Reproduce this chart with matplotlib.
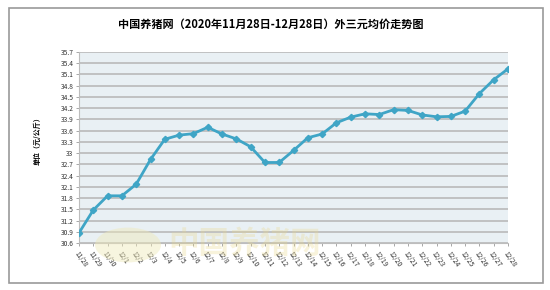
import matplotlib
matplotlib.use("Agg")
import matplotlib.pyplot as plt
from matplotlib.patches import Rectangle, Circle
import numpy as np

plt.rcParams['font.family'] = ['Noto Sans CJK SC', 'DejaVu Sans']

dates = ["11/28", "11/29", "11/30"] + [f"12/{d}" for d in range(1, 29)]
prices = [30.87, 31.48, 31.86, 31.86, 32.17, 32.83, 33.37, 33.48, 33.52, 33.69,
          33.51, 33.38, 33.17, 32.75, 32.75, 33.07, 33.41, 33.51, 33.81, 33.96,
          34.05, 34.03, 34.16, 34.14, 34.02, 33.97, 33.98, 34.12, 34.59, 34.96, 35.25]
yticks = [round(30.6 + 0.3 * i, 1) for i in range(18)]

title = "中国养猪网（2020年11月28日-12月28日）外三元均价走势图"
ylabel = "单位（元/公斤）"

fig = plt.figure(figsize=(5.5, 2.9), dpi=100)
fig.patch.set_facecolor("white")
# outer frame
fig.add_artist(Rectangle((9/550, 1-283/290), 534/550, 275/290, transform=fig.transFigure,
                         fill=False, edgecolor="#9a9a9a", linewidth=1.2))

ax = fig.add_axes([79/550, 1-243/290, 429/550, 191/290])
ax.set_facecolor("#E9F0F4")
x = np.arange(len(dates))
ax.plot(x, prices, color="#3FA5C6", linewidth=2.0, marker="D", markersize=3.2,
        markerfacecolor="#3FA5C6", markeredgecolor="#3FA5C6", zorder=3)
ax.set_xlim(0, len(dates) - 1)
ax.set_ylim(30.6, 35.7)
ax.set_yticks(yticks)
ax.set_yticklabels([f"{v:g}" for v in yticks], fontsize=4.8, color="#333333")
ax.set_xticks(x)
ax.set_xticklabels(dates, fontsize=4.8, rotation=-55, ha="left", va="top",
                   rotation_mode="anchor", color="#333333")
ax.yaxis.grid(True, color="#B5B5B5", linewidth=1.1)
ax.set_axisbelow(True)
for s in ["top", "right"]:
    ax.spines[s].set_visible(False)
ax.spines["left"].set_color("#BDBDBD")
ax.spines["bottom"].set_color("#BDBDBD")
ax.tick_params(axis="y", length=2, width=0.6, color="#999999", pad=2)
ax.tick_params(axis="x", length=2, width=0.6, color="#999999", pad=3)

# watermark
fig.add_artist(Circle((128/550, 1-245/290), 0.06, transform=fig.transFigure,
                      facecolor="#EFE9B8", edgecolor="none", alpha=0.45, zorder=5))
fig.text(0.445, 0.16, "中国养猪网", fontsize=22, color="#EAD88A", alpha=0.3,
         ha="center", va="center", fontweight="bold", zorder=5)

fig.text(0.493, 0.915, title, fontsize=8, fontweight="bold", ha="center", va="center")
fig.text(0.068, 0.52, ylabel, fontsize=5, fontweight="bold", rotation=90,
         ha="center", va="center")

fig.savefig("out.png", dpi=100)
